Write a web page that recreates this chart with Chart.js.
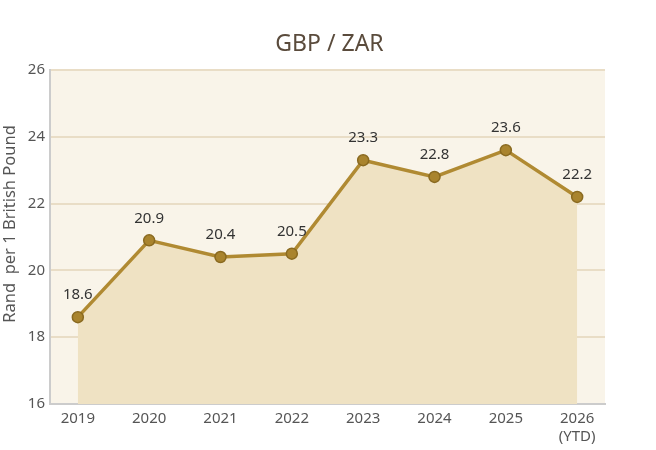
<!DOCTYPE html>
<html><head><meta charset="utf-8">
<script src="https://cdn.jsdelivr.net/npm/chart.js@4.4.1/dist/chart.umd.min.js"></script>
<style>html,body{margin:0;padding:0;background:#fff}#w{width:656px;height:450px}</style>
</head><body><div id="w"><canvas id="c"></canvas></div>
<script>
const categories = ["2019","2020","2021","2022","2023","2024","2025",["2026","(YTD)"]];
const rates = [18.6, 20.9, 20.4, 20.5, 23.3, 22.8, 23.6, 22.2];
const yTicks = [16, 18, 20, 22, 24, 26];
const chartTitle = 'GBP / ZAR';
const yTitle = 'Rand  per 1 British Pound';

const FONT = "'Noto Sans', sans-serif";
const bgPlugin = {
  id: 'bg',
  beforeDraw(chart) {
    const {ctx, chartArea: a} = chart;
    ctx.save(); ctx.fillStyle = '#F9F4E9';
    ctx.fillRect(a.left, a.top, a.right - a.left, a.bottom - a.top);
    ctx.restore();
  }
};
const textPlugin = {
  id: 'txt',
  afterDraw(chart) {
    const {ctx, chartArea: a} = chart;
    ctx.save();
    ctx.font = "23px " + FONT; ctx.fillStyle = '#5A4B3C'; ctx.textAlign = 'center'; ctx.textBaseline = 'middle';
    ctx.fillText(chartTitle, (a.left + a.right) / 2 + 2, 44);
    ctx.translate(10, 224); ctx.rotate(-Math.PI / 2);
    ctx.font = "16.5px " + FONT; ctx.fillStyle = '#555';
    ctx.fillText(yTitle, 0, 0);
    ctx.restore();
  },
  afterDatasetsDraw(chart) {
    const {ctx} = chart;
    const meta = chart.getDatasetMeta(0);
    ctx.save();
    ctx.font = "15px " + FONT; ctx.fillStyle = '#333'; ctx.textAlign = 'center'; ctx.textBaseline = 'middle';
    meta.data.forEach((p, i) => ctx.fillText(rates[i].toFixed(1), p.x, p.y - 22));
    ctx.restore();
  }
};
new Chart(document.getElementById('c'), {
  type: 'line',
  data: { datasets: [{
    data: rates.map((v, i) => ({x: i, y: v})),
    borderColor: '#B08A32', borderWidth: 3.5,
    backgroundColor: '#EFE2C3', fill: 'start',
    pointRadius: 5.5, pointBackgroundColor: '#A9842E', pointBorderColor: '#8A6A20', pointBorderWidth: 1.5,
    tension: 0
  }]},
  options: {
    responsive: true, maintainAspectRatio: false, animation: false,
    layout: { padding: { left: 0, right: 51, top: 70, bottom: 0 } },
    plugins: { legend: { display: false }, tooltip: { enabled: false } },
    scales: {
      x: {
        type: 'linear', min: -0.39, max: 7.39,
        afterBuildTicks: s => { s.ticks = categories.map((c, i) => ({value: i})); },
        afterFit: s => { s.height = 46; },
        ticks: { callback: (v) => categories[v], color: '#555', font: { family: FONT, size: 15 }, maxRotation: 0, padding: 6 },
        grid: { display: false, drawTicks: false },
        border: { display: true, color: '#CCCCCC', width: 2 }
      },
      y: {
        min: 16, max: 26,
        afterBuildTicks: s => { s.ticks = yTicks.map(v => ({value: v})); },
        afterFit: s => { s.width = 50; },
        ticks: { color: '#555', font: { family: FONT, size: 15 }, padding: 5 },
        grid: { color: '#E9DDC6', lineWidth: 2, drawTicks: false },
        border: { display: true, color: '#CCCCCC', width: 2 }
      }
    }
  },
  plugins: [bgPlugin, textPlugin]
});
</script></body></html>
